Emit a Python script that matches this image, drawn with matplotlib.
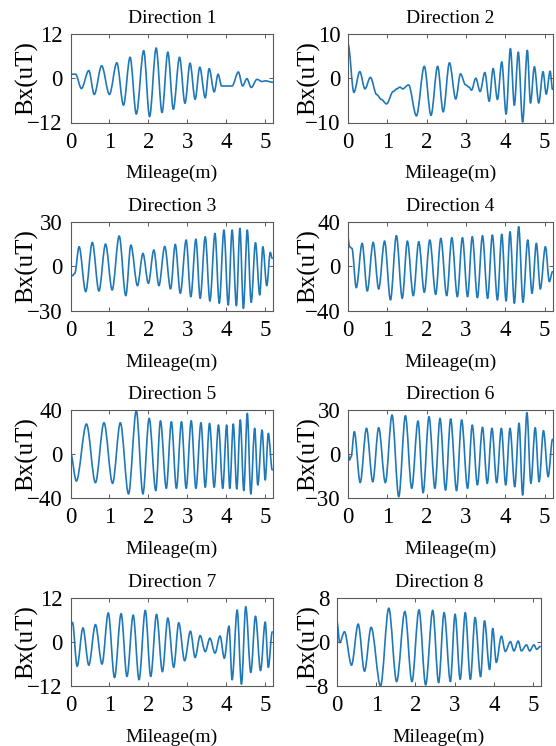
import matplotlib
matplotlib.use('Agg')
import matplotlib.pyplot as plt
from matplotlib.path import Path
from matplotlib.patches import PathPatch

# ---- data: extrema of each trace (mileage m, Bx uT) ----
d1_x = [0.0, 0.13, 0.28, 0.47, 0.61, 0.80, 1.00, 1.19, 1.36, 1.53, 1.69, 1.88, 2.03, 2.20, 2.35,
        2.50, 2.64, 2.80, 2.94, 3.07, 3.20, 3.32, 3.46, 3.56, 3.69, 3.79, 3.88, 4.15, 4.31, 4.42,
        4.53, 4.64, 4.79, 4.92, 5.00, 5.20]
d1_y = [1.1, 1.1, -2.8, 2.1, -4.4, 3.4, -4.4, 4.2, -7.3, 5.7, -9.7, 7.5, -10.4, 8.2, -9.3,
        7.1, -8.4, 5.7, -6.8, 4.1, -5.7, 3.0, -5.3, 2.6, -3.7, 1.1, -2.1, -2.1, 1.7, -2.1,
        -0.1, -2.5, -0.3, -0.9, -0.7, -1.1]

d2_x = [0.0, 0.15, 0.30, 0.43, 0.57, 0.73, 0.85, 0.98, 1.15, 1.24, 1.32, 1.39, 1.54, 1.74, 1.94,
        2.11, 2.28, 2.42, 2.58, 2.74, 2.86, 2.99, 3.08, 3.14, 3.25, 3.36, 3.48, 3.59, 3.69, 3.80,
        3.91, 4.02, 4.13, 4.23, 4.33, 4.44, 4.56, 4.64, 4.74, 4.85, 4.96, 5.04, 5.14, 5.20]
d2_y = [7.8, -3.2, 1.5, -2.4, 0.2, -3.7, -4.8, -5.8, -3.0, -2.4, -2.0, -2.4, -1.5, -8.5, 2.7,
        -8.4, 2.7, -7.6, 3.5, -4.7, 1.0, -1.5, -2.0, -2.7, 0.0, -3.0, 1.3, -5.2, 2.2, -4.8,
        3.7, -8.1, 6.7, -6.1, 5.9, -9.9, 6.3, -5.6, 2.6, -5.6, 1.5, -3.6, 1.6, -2.5]

d3_x = [0.0, 0.05, 0.11, 0.22, 0.39, 0.56, 0.73, 0.90, 1.07, 1.25, 1.42, 1.55, 1.72, 1.86, 2.00,
        2.14, 2.27, 2.42, 2.57, 2.69, 2.82, 2.97, 3.09, 3.22, 3.33, 3.46, 3.58, 3.71, 3.82, 3.94,
        4.05, 4.15, 4.26, 4.35, 4.44, 4.54, 4.64, 4.75, 4.86, 4.94, 5.04, 5.13, 5.18]
d3_y = [-5.4, -6.3, -4.7, 13.2, -17.0, 16.1, -16.6, 15.0, -15.9, 20.4, -19.7, 14.3, -13.0, 8.7, -11.4,
        11.0, -13.0, 13.4, -15.2, 14.8, -18.1, 17.7, -20.4, 18.3, -21.5, 19.9, -23.3, 22.1, -24.8, 24.4,
        -26.0, 24.4, -26.4, 25.5, -28.2, 24.4, -24.2, 15.9, -19.2, 13.2, -13.0, 9.4, 5.4]

d4_x = [0.0, 0.04, 0.10, 0.21, 0.36, 0.49, 0.64, 0.78, 0.93, 1.08, 1.23, 1.38, 1.51, 1.66, 1.80,
        1.94, 2.08, 2.23, 2.36, 2.51, 2.64, 2.78, 2.91, 3.04, 3.16, 3.29, 3.42, 3.55, 3.67, 3.80,
        3.91, 4.02, 4.12, 4.23, 4.34, 4.45, 4.57, 4.68, 4.79, 4.89, 5.02, 5.12, 5.20]
d4_y = [25.0, 17.6, 16.1, -19.1, 20.6, -22.1, 21.5, -20.3, 22.7, -30.1, 27.5, -28.7, 22.7, -26.3, 22.1,
        -23.3, 23.6, -25.1, 25.1, -26.3, 25.7, -27.2, 25.7, -27.2, 26.6, -28.1, 27.5, -28.7, 28.1, -30.1,
        28.7, -31.0, 31.0, -33.1, 35.5, -32.2, 23.6, -24.2, 20.6, -20.3, 17.6, -13.7, -4.8]

d5_x = [0.0, 0.15, 0.41, 0.64, 0.86, 1.08, 1.28, 1.49, 1.69, 1.86, 2.02, 2.19, 2.31, 2.46, 2.59,
        2.72, 2.85, 2.97, 3.10, 3.22, 3.35, 3.46, 3.57, 3.69, 3.80, 3.91, 4.01, 4.09, 4.18, 4.27,
        4.36, 4.45, 4.54, 4.63, 4.73, 4.81, 4.92, 5.00, 5.08, 5.18]
d5_y = [1.0, -24.8, 27.2, -26.3, 28.4, -26.9, 28.4, -36.6, 39.4, -36.6, 32.4, -33.6, 30.2, -31.5, 29.3,
        -31.5, 29.3, -31.5, 30.2, -31.5, 28.4, -30.5, 27.8, -30.5, 26.3, -31.5, 26.3, -31.5, 27.2, -32.0,
        30.9, -33.5, 36.9, -36.6, 23.3, -28.4, 21.7, -23.9, 18.7, -14.7]

d6_x = [0.0, 0.04, 0.08, 0.16, 0.31, 0.47, 0.63, 0.78, 0.95, 1.12, 1.29, 1.46, 1.62, 1.78, 1.91,
        2.06, 2.21, 2.34, 2.48, 2.61, 2.76, 2.89, 3.04, 3.16, 3.29, 3.42, 3.54, 3.66, 3.78, 3.90,
        4.01, 4.12, 4.24, 4.35, 4.44, 4.55, 4.65, 4.76, 4.86, 4.97, 5.09, 5.20]
d6_y = [0.0, -4.2, -2.0, 15.2, -19.7, 17.5, -19.1, 17.9, -19.7, 26.6, -29.3, 26.1, -23.6, 22.5, -26.6,
        25.5, -23.6, 24.3, -24.8, 23.9, -25.2, 23.2, -23.6, 19.7, -21.3, 18.2, -20.2, 17.5, -19.7, 17.5,
        -21.3, 17.5, -22.5, 20.9, -28.2, 28.2, -20.2, 17.9, -19.1, 15.9, -15.6, 9.9]

d7_x = [0.0, 0.05, 0.17, 0.32, 0.47, 0.64, 0.81, 0.97, 1.13, 1.30, 1.45, 1.61, 1.76, 1.92, 2.06,
        2.21, 2.36, 2.50, 2.65, 2.78, 2.93, 3.08, 3.20, 3.33, 3.46, 3.58, 3.71, 3.84, 3.95, 4.07,
        4.15, 4.28, 4.39, 4.50, 4.63, 4.75, 4.88, 5.00, 5.08, 5.18]
d7_y = [4.6, 5.4, -6.6, 3.9, -6.3, 4.8, -6.0, 8.0, -9.7, 7.8, -9.4, 7.4, -10.3, 8.7, -9.4,
        7.6, -8.1, 6.6, -6.9, 5.3, -5.1, 3.0, -4.2, 1.8, -2.6, 1.1, -3.0, 1.7, -4.4, 4.4,
        -10.3, 8.8, -11.5, 9.7, -8.3, 7.1, -7.8, 5.5, -6.9, 2.8]

d8_x = [0.0, 0.07, 0.19, 0.37, 0.54, 0.70, 0.87, 1.11, 1.32, 1.52, 1.73, 1.91, 2.09, 2.26, 2.44,
        2.59, 2.73, 2.89, 3.01, 3.14, 3.27, 3.40, 3.52, 3.66, 3.76, 3.89, 3.97, 4.06, 4.19, 4.29,
        4.42, 4.51, 4.62, 4.70, 4.83, 4.91, 5.02, 5.09, 5.18]
d8_y = [3.7, -0.1, 1.9, -4.2, 3.3, -5.3, 2.7, -8.0, 6.2, -7.2, 5.6, -7.2, 5.9, -7.8, 5.8,
        -7.4, 5.4, -7.2, 5.1, -6.8, 5.4, -6.8, 4.5, -6.3, 3.9, -5.0, 2.5, -3.7, 1.1, -1.7,
        0.1, -1.6, 0.2, -1.6, -0.5, -1.6, -0.5, -1.3, -0.8]

titles = ['Direction %d' % i for i in range(1, 9)]
series_x = [d1_x, d2_x, d3_x, d4_x, d5_x, d6_x, d7_x, d8_x]
series_y = [d1_y, d2_y, d3_y, d4_y, d5_y, d6_y, d7_y, d8_y]
y_lims = [12, 10, 30, 40, 40, 30, 12, 8]

# axes boxes in pixels (left, top, right, bottom) measured on the 556x746 reference
W, H = 556.0, 746.0
boxes = [(70.5, 34, 273, 122.5), (348, 34, 552.5, 122.5),
         (70.5, 221.7, 273, 311), (348, 221.7, 552.5, 311),
         (70.5, 410, 273, 497.7), (348, 410, 552.5, 497.7),
         (70.5, 598.3, 273, 686), (337, 598.3, 541, 686)]
ylabel_x_px = [38.7, 320.5]
xlabel_gap_px = 42.5

plt.rcParams['font.family'] = ['Liberation Serif', 'DejaVu Serif']
LINE_C = '#1f78b8'
SPINE_C = '#5a5a5a'


def smooth_path(xs, ys):
    """cubic segments with flat tangents at each read extremum"""
    verts = [(xs[0], ys[0])]
    codes = [Path.MOVETO]
    for i in range(1, len(xs)):
        dx = (xs[i] - xs[i - 1]) / 3.0
        verts += [(xs[i - 1] + dx, ys[i - 1]), (xs[i] - dx, ys[i]), (xs[i], ys[i])]
        codes += [Path.CURVE4] * 3
    return Path(verts, codes)


fig = plt.figure(figsize=(W / 100, H / 100), dpi=100)

for k in range(8):
    l, t, r, b = boxes[k]
    ax = fig.add_axes([l / W, 1 - b / H, (r - l) / W, (b - t) / H])
    ax.add_patch(PathPatch(smooth_path(series_x[k], series_y[k]), fill=False,
                           edgecolor=LINE_C, lw=1.2, capstyle='round', joinstyle='round'))
    lim = y_lims[k]
    ax.set_xlim(0, 5.2)
    ax.set_ylim(-lim, lim)
    ax.set_xticks(range(6))
    ax.set_yticks([-lim, 0, lim])
    ax.tick_params(direction='in', top=True, right=True, length=3, width=0.7,
                   color=SPINE_C, labelsize=16.5)
    ax.tick_params(axis='x', pad=6.5)
    ax.tick_params(axis='y', pad=5.5)
    for s in ax.spines.values():
        s.set_color(SPINE_C)
        s.set_linewidth(0.8)

    ax.set_title(titles[k], fontsize=14, pad=8)
    ax.set_xlabel('Mileage(m)', fontsize=14)
    ax.xaxis.set_label_coords(0.5, -xlabel_gap_px / (b - t))
    ax.set_ylabel('Bx(uT)', fontsize=18)
    yx = ylabel_x_px[k % 2]
    ax.yaxis.set_label_coords((yx - l) / (r - l), 0.5)

fig.savefig('out.png', dpi=100)
